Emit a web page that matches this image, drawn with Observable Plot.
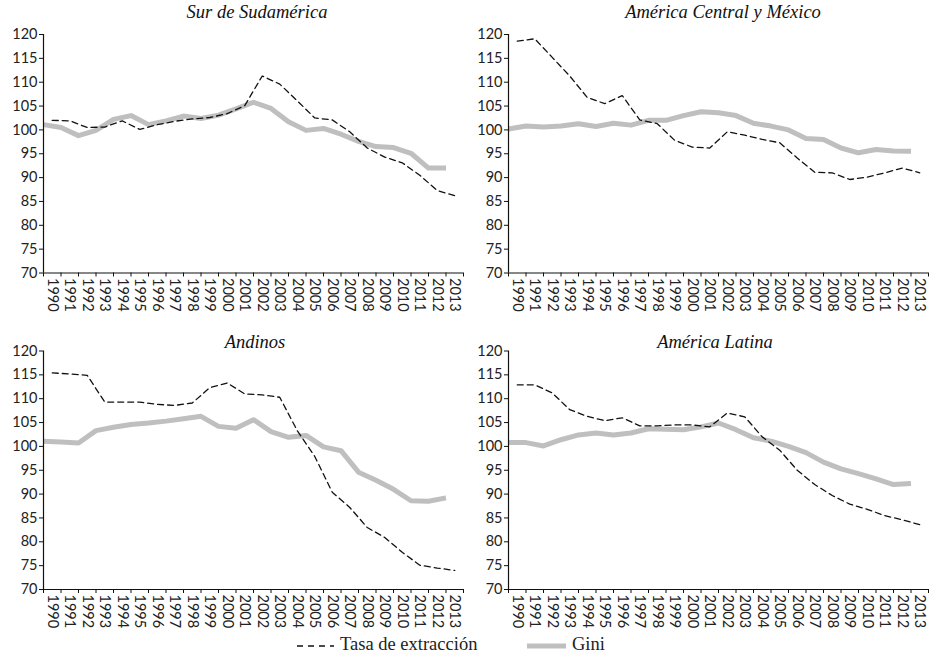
<!DOCTYPE html>
<html>
<head>
<meta charset="utf-8">
<script src="https://cdn.jsdelivr.net/npm/d3@7"></script>
<script src="https://cdn.jsdelivr.net/npm/@observablehq/plot@0.6"></script>
<style>
  html, body { margin: 0; padding: 0; background: #fff; }
  #root { position: relative; width: 930px; height: 658px; overflow: hidden; }
  .panel { position: absolute; }
  .title { position: absolute; font-family: "Liberation Serif", "DejaVu Serif", serif; font-style: italic; font-size: 18.5px; color: #111; transform: translate(-50%, -50%); white-space: nowrap; }
  .legend { position: absolute; top: 634px; left: 0; width: 930px; height: 24px; font-family: "Liberation Serif", "DejaVu Serif", serif; font-size: 18.5px; color: #222; }
  .legend span { position: absolute; top: 0px; }
  .legend svg { position: absolute; top: 0; }
</style>
</head>
<body>
<div id="root"></div>
<script>
// ---- Data ----
const years = d3.range(1990, 2014); // 1990..2013
const yTicks = [70, 75, 80, 85, 90, 95, 100, 105, 110, 115, 120];

const surTasa = [102.0, 101.9, 100.5, 100.6, 101.9, 100.1, 101.1, 101.8, 102.3, 102.6, 103.4, 105.1, 111.3, 109.6, 106.1, 102.5, 102.1, 99.6, 96.2, 94.3, 93.1, 90.5, 87.3, 86.2];
const surGini = [101.1, 100.5, 98.8, 99.9, 102.2, 103.0, 101.1, 101.9, 102.9, 102.4, 103.1, 104.4, 105.8, 104.5, 101.7, 99.9, 100.3, 99.1, 97.6, 96.5, 96.3, 95.1, 92.0, 92.0];

const camTasa = [118.6, 119.1, 115.2, 111.3, 106.8, 105.5, 107.2, 102.1, 101.3, 97.8, 96.4, 96.2, 99.6, 98.9, 98.0, 97.3, 94.1, 91.1, 91.0, 89.6, 90.1, 91.0, 92.0, 91.0];
const camGini = [100.2, 100.8, 100.6, 100.8, 101.3, 100.7, 101.4, 101.0, 102.0, 102.0, 103.0, 103.8, 103.6, 103.0, 101.4, 100.8, 100.0, 98.2, 98.0, 96.2, 95.2, 95.9, 95.6, 95.5];

const andTasa = [115.4, 115.2, 114.9, 109.3, 109.3, 109.3, 108.8, 108.6, 109.1, 112.3, 113.3, 111.0, 110.8, 110.3, 103.3, 97.9, 90.4, 87.2, 83.0, 80.9, 77.8, 75.1, 74.5, 74.0];
const andGini = [101.1, 100.9, 100.7, 103.3, 104.0, 104.6, 104.9, 105.3, 105.8, 106.3, 104.2, 103.8, 105.6, 103.1, 101.9, 102.3, 99.9, 99.1, 94.6, 92.9, 91.0, 88.6, 88.5, 89.2];

const latTasa = [112.9, 112.9, 111.2, 107.7, 106.3, 105.4, 106.0, 104.3, 104.3, 104.5, 104.5, 104.1, 107.0, 106.2, 102.0, 99.2, 95.0, 92.0, 89.7, 87.9, 86.8, 85.5, 84.6, 83.6];
const latGini = [100.8, 100.8, 100.1, 101.4, 102.4, 102.8, 102.4, 102.8, 103.7, 103.6, 103.5, 104.1, 104.9, 103.5, 101.8, 101.1, 100.0, 98.7, 96.7, 95.3, 94.3, 93.2, 92.0, 92.2];

const panels = [
  {title: "Sur de Sudamérica", tasa: surTasa, gini: surGini, left: 0, top: 0, tx: 257, ty: 12},
  {title: "América Central y México", tasa: camTasa, gini: camGini, left: 465, top: 0, tx: 723, ty: 12},
  {title: "Andinos", tasa: andTasa, gini: andGini, left: 0, top: 320, tx: 255, ty: 342},
  {title: "América Latina", tasa: latTasa, gini: latGini, left: 465, top: 320, tx: 715, ty: 342}
];

const root = document.getElementById("root");

for (const p of panels) {
  const rows = years.map((yr, i) => ({year: yr, tasa: p.tasa[i], gini: p.gini[i]}));
  const isTop = p.top === 0;
  const marginTop = isTop ? 34 : 30.5;
  const plotH = 238.5;
  const marginBottom = 50;
  const chart = Plot.plot({
    width: 465,
    height: marginTop + plotH + marginBottom,
    marginLeft: 43,
    marginRight: 2,
    marginTop,
    marginBottom,
    style: {fontFamily: "Lato, 'DejaVu Sans', sans-serif", fontSize: "14.5px", color: "#222", background: "transparent", overflow: "visible"},
    x: {domain: [1990, 2014], axis: null},
    y: {domain: [70, 120], axis: null},
    marks: [
      Plot.line(rows, {x: "year", y: "gini", stroke: "#bfbfbf", strokeWidth: 5, strokeLinejoin: "round", strokeLinecap: "butt"}),
      Plot.line(rows, {x: d => d.year + 0.5, y: "tasa", stroke: "#111", strokeWidth: 1.3, strokeDasharray: "6,4"}),
      Plot.ruleX([1990], {stroke: "#111", strokeWidth: 1.2}),
      Plot.ruleY([70], {stroke: "#111", strokeWidth: 1.2}),
      Plot.axisY(yTicks, {label: null, tickSize: 4, tickPadding: 2, tickFormat: d => String(d), stroke: "#111"}),
      Plot.axisX(d3.range(1990, 2015), {label: null, tickSize: 4, tickFormat: () => "", stroke: "#111"}),
      Plot.axisX(years.map(y => y + 0.5), {label: null, tickSize: 0, tickPadding: 5, tickRotate: 90, tickFormat: d => String(Math.round(d - 0.5))})
    ]
  });
  chart.classList.add("panel");
  chart.style.left = p.left + "px";
  chart.style.top = p.top + "px";
  root.appendChild(chart);

  const t = document.createElement("div");
  t.className = "title";
  t.textContent = p.title;
  t.style.left = p.tx + "px";
  t.style.top = p.ty + "px";
  root.appendChild(t);
}

// ---- Legend ----
const legend = document.createElement("div");
legend.className = "legend";
legend.innerHTML = `
  <svg width="40" height="22" style="left:296px"><line x1="1" y1="12" x2="38" y2="12" stroke="#111" stroke-width="1.3" stroke-dasharray="6,5"/></svg>
  <span style="left:340px">Tasa de extracción</span>
  <svg width="42" height="22" style="left:526px"><line x1="1" y1="12" x2="40" y2="12" stroke="#bfbfbf" stroke-width="5"/></svg>
  <span style="left:572px">Gini</span>
`;
root.appendChild(legend);
</script>
</body>
</html>
